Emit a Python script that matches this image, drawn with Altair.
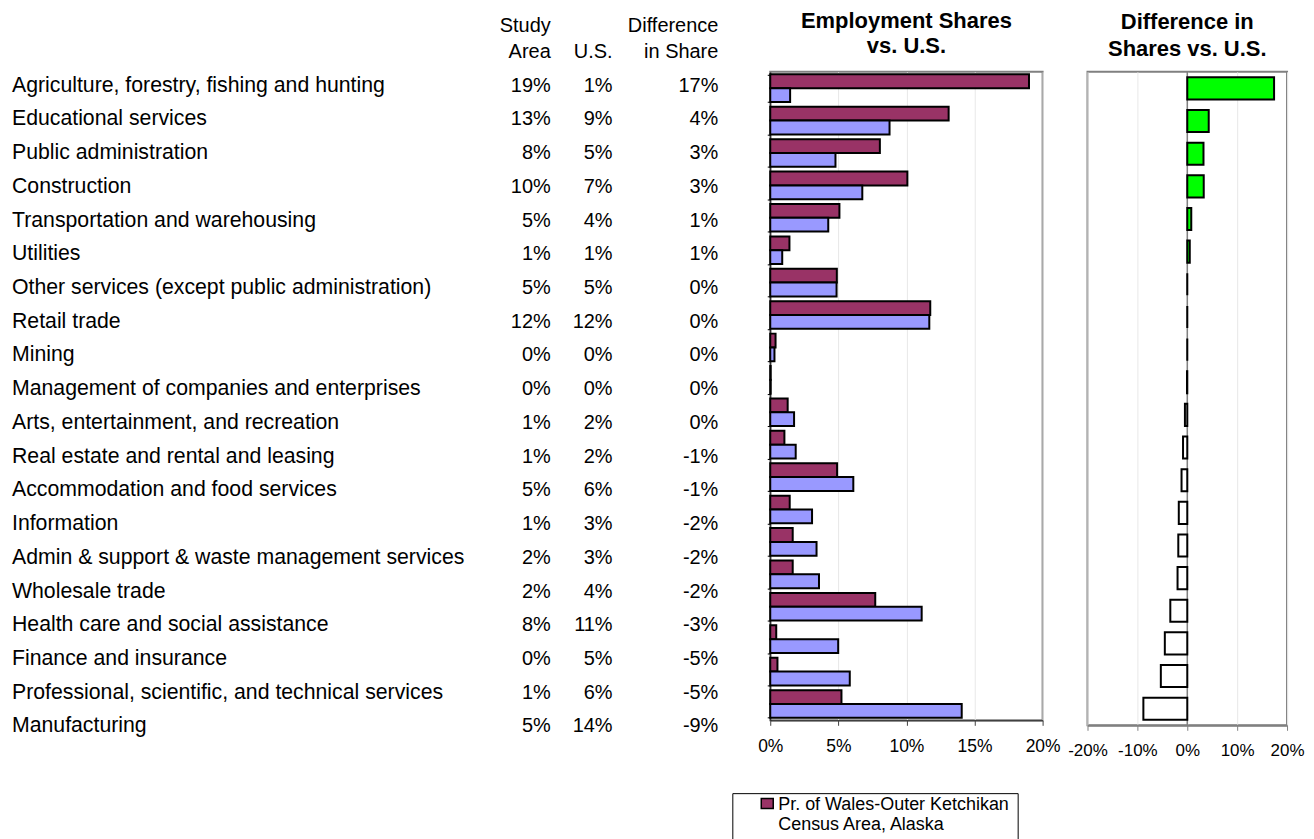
import altair as alt
import pandas as pd

FONT = "Liberation Sans"

categories = [
    "Agriculture, forestry, fishing and hunting",
    "Educational services",
    "Public administration",
    "Construction",
    "Transportation and warehousing",
    "Utilities",
    "Other services (except public administration)",
    "Retail trade",
    "Mining",
    "Management of companies and enterprises",
    "Arts, entertainment, and recreation",
    "Real estate and rental and leasing",
    "Accommodation and food services",
    "Information",
    "Admin & support & waste management services",
    "Wholesale trade",
    "Health care and social assistance",
    "Finance and insurance",
    "Professional, scientific, and technical services",
    "Manufacturing",
]

# shares (%)
study_area = [19.0, 13.1, 8.05, 10.07, 5.08, 1.41, 4.89, 11.75, 0.39, 0.03,
              1.28, 1.04, 4.91, 1.43, 1.65, 1.65, 7.71, 0.44, 0.53, 5.23]
us_share = [1.46, 8.76, 4.79, 6.76, 4.26, 0.88, 4.87, 11.68, 0.31, 0.03,
            1.75, 1.87, 6.10, 3.07, 3.40, 3.58, 11.12, 4.99, 5.84, 14.06]
difference = [17.4, 4.3, 3.25, 3.3, 0.8, 0.5, 0.0, 0.0, 0.0, -0.05,
              -0.47, -0.85, -1.15, -1.7, -1.8, -1.95, -3.4, -4.5, -5.3, -8.8]

# table text as printed
study_labels = ["19%", "13%", "8%", "10%", "5%", "1%", "5%", "12%", "0%", "0%",
                "1%", "1%", "5%", "1%", "2%", "2%", "8%", "0%", "1%", "5%"]
us_labels = ["1%", "9%", "5%", "7%", "4%", "1%", "5%", "12%", "0%", "0%",
             "2%", "2%", "6%", "3%", "3%", "4%", "11%", "5%", "6%", "14%"]
diff_labels = ["17%", "4%", "3%", "3%", "1%", "1%", "0%", "0%", "0%", "0%",
               "0%", "-1%", "-1%", "-2%", "-2%", "-2%", "-3%", "-5%", "-5%", "-9%"]

header_top = ["Study", "", "Difference"]
header_bottom = ["Area", "U.S.", "in Share"]

series_names = ["Pr. of Wales-Outer Ketchikan Census Area, Alaska", "U.S."]
left_ticks = [0, 5, 10, 15, 20]
right_ticks = [-20, -10, 0, 10, 20]

MAROON = "#993366"
LAVENDER = "#9999FF"
GREEN = "#00FF00"
FRAME = "#808080"
GRID = "#e8e8e8"

# ---------------- table ----------------
table_df = pd.DataFrame({
    "category": categories,
    "study": study_labels,
    "us": us_labels,
    "diff": diff_labels,
})
y_tab = alt.Y("category:N", sort=categories, axis=None,
              scale=alt.Scale(paddingInner=0, paddingOuter=0))
tbase = alt.Chart(table_df)
TXT = dict(font=FONT, color="black", baseline="middle", dy=-3)
col_x = [540, 602, 708]
layers = [tbase.mark_text(align="left", fontSize=21.3, **TXT).encode(y=y_tab, x=alt.value(0), text="category:N")]
for field, cx in zip(["study", "us", "diff"], col_x):
    layers.append(tbase.mark_text(align="right", fontSize=20, **TXT).encode(y=y_tab, x=alt.value(cx), text=f"{field}:N"))
for i, cx in enumerate(col_x):
    hdf = pd.DataFrame({"t1": [header_top[i]], "t2": [header_bottom[i]]})
    hb = alt.Chart(hdf)
    if header_top[i]:
        layers.append(hb.mark_text(align="right", baseline="middle", fontSize=20, font=FONT, color="black")
                      .encode(x=alt.value(cx), y=alt.value(-46), text="t1:N"))
    layers.append(hb.mark_text(align="right", baseline="middle", fontSize=20, font=FONT, color="black")
                  .encode(x=alt.value(cx), y=alt.value(-19.5), text="t2:N"))
table = alt.layer(*layers).properties(width=715, height=676,
                                      view=alt.ViewBackground(stroke="transparent"))

# ---------------- left panel ----------------
long_rows = []
for c, s, u in zip(categories, study_area, us_share):
    long_rows.append({"category": c, "series": series_names[0], "value": s})
    long_rows.append({"category": c, "series": series_names[1], "value": u})
long_df = pd.DataFrame(long_rows)

left = alt.Chart(long_df).mark_bar(stroke="black", strokeWidth=2).encode(
    y=alt.Y("category:N", sort=categories,
            scale=alt.Scale(paddingInner=0.147, paddingOuter=0.077),
            axis=alt.Axis(labels=False, title=None, domainColor="black", domainWidth=1,
                          ticks=True, tickBand="extent", tickSize=3, tickColor="black", grid=False)),
    yOffset=alt.YOffset("series:N", sort=series_names,
                        scale=alt.Scale(paddingInner=0, paddingOuter=0)),
    x=alt.X("value:Q", scale=alt.Scale(domain=[0, 20], nice=False),
            axis=alt.Axis(values=left_ticks, labelExpr="datum.value + '%'", title=None,
                          grid=True, gridColor=GRID, domainColor="#404040", domainWidth=1.5,
                          tickColor="#404040", tickSize=5, labelPadding=12, labelOverlap=False,
                          labelFlush=False,
                          labelFontSize=17.5, labelFont=FONT, labelColor="black")),
    color=alt.Color("series:N", sort=series_names,
                    scale=alt.Scale(domain=series_names, range=[MAROON, LAVENDER]),
                    legend=alt.Legend(values=[series_names[0]], orient="none",
                                      legendX=-38, legendY=723, title=None,
                                      labelExpr="[slice(datum.label, 0, 28), slice(datum.label, 29)]",
                                      labelFontSize=18, labelFont=FONT, labelColor="black",
                                      labelLimit=500, labelBaseline="alphabetic",
                                      strokeColor="black", fillColor="white", padding=8,
                                      symbolType="M-1,-1.92H1V-0.25H-1Z", symbolSize=144,
                                      symbolStrokeColor="black", symbolStrokeWidth=1.5,
                                      symbolOffset=18, labelOffset=2)),
).properties(
    width=273, height=650,
    title=alt.TitleParams(["Employment Shares", "vs. U.S."], fontSize=22, fontWeight="bold",
                          font=FONT, anchor="middle", offset=14, lineHeight=25, color="black"),
)

# ---------------- right panel ----------------
diff_df = pd.DataFrame({"category": categories, "difference": difference})
zero_df = pd.DataFrame({"x": [0]})
right_bars = alt.Chart(diff_df).mark_bar(stroke="black", strokeWidth=2).encode(
    y=alt.Y("category:N", sort=categories,
            scale=alt.Scale(paddingInner=0.323, paddingOuter=0.17),
            axis=alt.Axis(labels=False, ticks=False, domain=False, title=None, grid=False)),
    x=alt.X("difference:Q", scale=alt.Scale(domain=[-20, 20], nice=False),
            axis=alt.Axis(values=right_ticks, labelExpr="datum.value + '%'", title=None,
                          grid=True, gridColor=GRID, domainColor=FRAME, domainWidth=2,
                          tickColor=FRAME, tickSize=5, labelPadding=12, labelOverlap=False,
                          labelFlush=False,
                          labelFontSize=17, labelFont=FONT, labelColor="black")),
    fill=alt.condition("datum.difference > 0", alt.value(GREEN), alt.value("white")),
)
zero_rule = alt.Chart(zero_df).mark_rule(color=FRAME, strokeWidth=1.5).encode(x="x:Q")
right = alt.layer(zero_rule, right_bars).properties(
    width=200, height=655,
    title=alt.TitleParams(["Difference in", "Shares vs. U.S."], fontSize=22, fontWeight="bold",
                          font=FONT, anchor="middle", offset=10, lineHeight=27, color="black"),
)

chart = alt.hconcat(table, left, right, spacing=45, bounds="flush").resolve_scale(
    y="independent", x="independent", color="independent"
).resolve_legend(color="independent").properties(
    padding={"left": 3, "top": 0, "right": 0, "bottom": 0},
    background="white",
).configure_view(stroke=FRAME, strokeWidth=2)

chart.save("out.html", embed_options={"renderer": "svg", "actions": False})
